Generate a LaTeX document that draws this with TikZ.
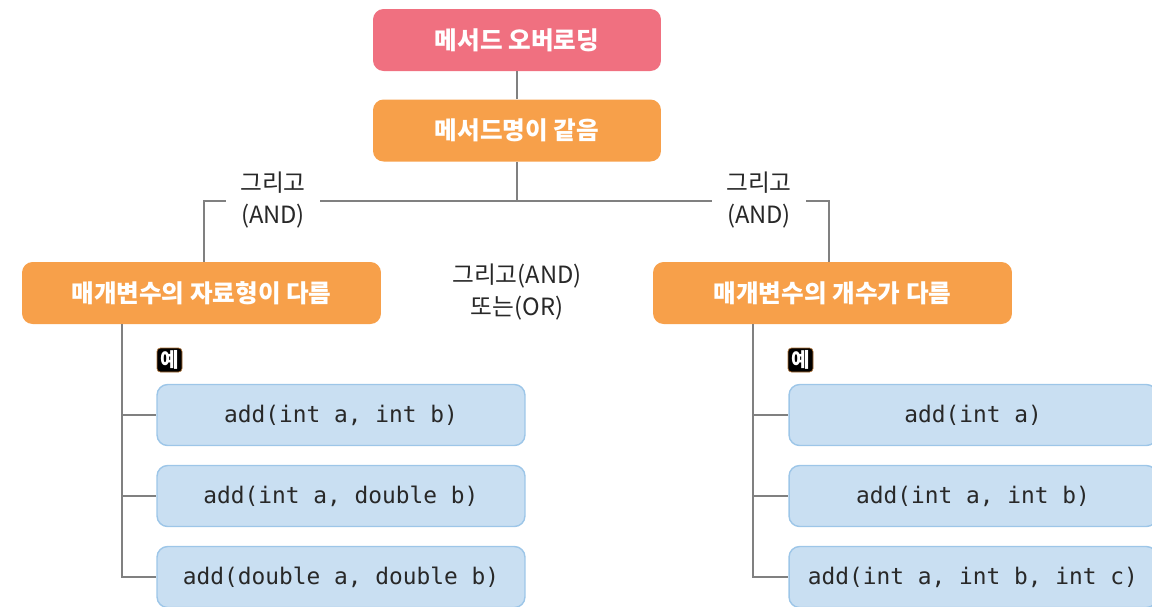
\documentclass[tikz,border=0pt]{standalone}
\usepackage{fontspec}
\newfontfamily\kr{Noto Sans CJK KR}
\newfontfamily\mono{DejaVu Sans Mono}
\definecolor{topred}{RGB}{240,112,128}
\definecolor{orng}{RGB}{247,160,74}
\definecolor{bfill}{RGB}{201,223,242}
\definecolor{bdraw}{RGB}{157,198,232}
\definecolor{lgray}{RGB}{128,128,128}
\definecolor{ink}{RGB}{40,40,40}
\tikzset{
  hbox/.style={rounded corners=6pt, minimum width=5.76cm, minimum height=1.24cm, text=white, font=\kr\bfseries\fontsize{14}{16}\selectfont, inner sep=0pt},
  redbox/.style={hbox, fill=topred},
  orbox/.style={hbox, fill=orng},
  widebox/.style={hbox, fill=orng, minimum width=7.18cm},
  codebox/.style={rounded corners=6pt, fill=bfill, draw=bdraw, line width=0.8pt, minimum width=7.36cm, minimum height=1.22cm, text=ink, font=\mono\fontsize{13}{15}\selectfont, inner sep=0pt},
  conn/.style={draw=lgray, line width=1.3pt},
  lbl/.style={font=\kr\fontsize{13.5}{18}\selectfont, text=ink, align=center, fill=white, inner xsep=6pt, inner ysep=1pt},
  ex/.style={fill=black, draw=orng!70!black, line width=0.4pt, rounded corners=2pt, text=white, font=\kr\bfseries\fontsize{11.5}{12}\selectfont, inner sep=1pt, minimum width=0.5cm, minimum height=0.48cm}
}
\begin{document}
\begin{tikzpicture}[x=0.02cm,y=-0.02cm]
\useasboundingbox (0,0) rectangle (1152,606);
\clip (0,0) rectangle (1152,606);
\node[redbox] (top) at (517,40) {메서드 오버로딩};
\node[orbox] (name) at (517,130.5) {메서드명이 같음};
\node[widebox] (left) at (201.5,293) {매개변수의 자료형이 다름};
\node[widebox] (right) at (832.5,293) {매개변수의 개수가 다름};
\coordinate (j) at (517,201);
\coordinate (lt) at (122,324);
\coordinate (rt) at (753,324);
\node[codebox] (l1) at (341,415) {add(int a, int b)};
\node[codebox] (l2) at (341,496) {add(int a, double b)};
\node[codebox] (l3) at (341,577) {add(double a, double b)};
\node[codebox] (r1) at (973,415) {add(int a)};
\node[codebox] (r2) at (973,496) {add(int a, int b)};
\node[codebox] (r3) at (973,577) {add(int a, int b, int c)};
\node[ex] (lex) at (169.5,360) {예};
\node[ex] (rex) at (800.5,360) {예};
\draw[conn] (top) -- (name);
\draw[conn] (name.south) -- (j);
\draw[conn] ([xshift=0.05cm]left.north) |- (j) -| ([xshift=-0.07cm]right.north);
\draw[conn] (lt) |- (l3.west);
\draw[conn] (lt |- l1.west) -- (l1.west);
\draw[conn] (lt |- l2.west) -- (l2.west);
\draw[conn] (rt) |- (r3.west);
\draw[conn] (rt |- r1.west) -- (r1.west);
\draw[conn] (rt |- r2.west) -- (r2.west);
\node[lbl, inner xsep=8pt] (la) at (273,200) {그리고\\(AND)};
\node[lbl, inner xsep=8pt] (ra) at (759,200) {그리고\\(AND)};
\node[lbl] (mid) at (517,292) {그리고(AND)\\또는(OR)};
\end{tikzpicture}
\end{document}
